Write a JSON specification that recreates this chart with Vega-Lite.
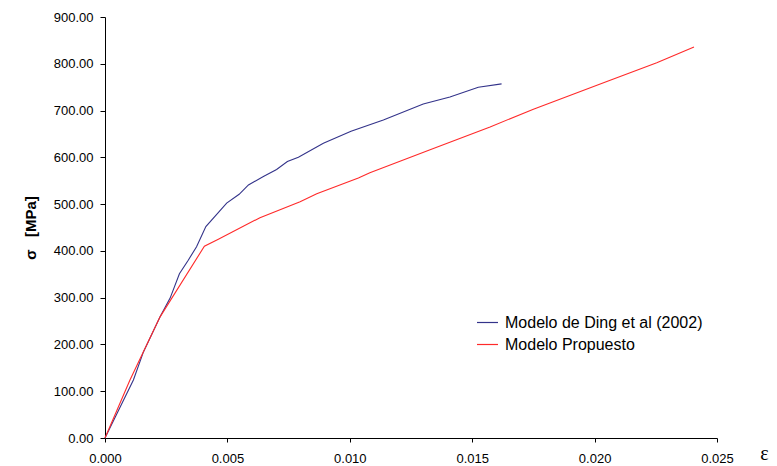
{
  "$schema": "https://vega.github.io/schema/vega-lite/v6.json",
  "width": 612,
  "height": 421,
  "autosize": "none",
  "padding": {"left": 105, "top": 17, "right": 60, "bottom": 28},
  "background": "white",
  "config": {
    "view": {"stroke": null},
    "font": "Liberation Sans"
  },
  "data": {
    "values": [
      {"eps": 0, "sigma": 0, "serie": "Modelo de Ding et al (2002)"},
      {"eps": 0.00116, "sigma": 124, "serie": "Modelo de Ding et al (2002)"},
      {"eps": 0.00157, "sigma": 184, "serie": "Modelo de Ding et al (2002)"},
      {"eps": 0.00225, "sigma": 259, "serie": "Modelo de Ding et al (2002)"},
      {"eps": 0.00266, "sigma": 299, "serie": "Modelo de Ding et al (2002)"},
      {"eps": 0.00304, "sigma": 351, "serie": "Modelo de Ding et al (2002)"},
      {"eps": 0.0034, "sigma": 380, "serie": "Modelo de Ding et al (2002)"},
      {"eps": 0.00374, "sigma": 409, "serie": "Modelo de Ding et al (2002)"},
      {"eps": 0.00412, "sigma": 452, "serie": "Modelo de Ding et al (2002)"},
      {"eps": 0.00497, "sigma": 502, "serie": "Modelo de Ding et al (2002)"},
      {"eps": 0.00548, "sigma": 521, "serie": "Modelo de Ding et al (2002)"},
      {"eps": 0.00586, "sigma": 541, "serie": "Modelo de Ding et al (2002)"},
      {"eps": 0.00647, "sigma": 559, "serie": "Modelo de Ding et al (2002)"},
      {"eps": 0.00701, "sigma": 574, "serie": "Modelo de Ding et al (2002)"},
      {"eps": 0.00745, "sigma": 591, "serie": "Modelo de Ding et al (2002)"},
      {"eps": 0.0079, "sigma": 600, "serie": "Modelo de Ding et al (2002)"},
      {"eps": 0.00892, "sigma": 630, "serie": "Modelo de Ding et al (2002)"},
      {"eps": 0.01005, "sigma": 656, "serie": "Modelo de Ding et al (2002)"},
      {"eps": 0.01137, "sigma": 680, "serie": "Modelo de Ding et al (2002)"},
      {"eps": 0.013, "sigma": 714, "serie": "Modelo de Ding et al (2002)"},
      {"eps": 0.01409, "sigma": 729, "serie": "Modelo de Ding et al (2002)"},
      {"eps": 0.01525, "sigma": 750, "serie": "Modelo de Ding et al (2002)"},
      {"eps": 0.0162, "sigma": 757, "serie": "Modelo de Ding et al (2002)"},
      {"eps": 0, "sigma": 0, "serie": "Modelo Propuesto"},
      {"eps": 0.00102, "sigma": 124, "serie": "Modelo Propuesto"},
      {"eps": 0.00225, "sigma": 259, "serie": "Modelo Propuesto"},
      {"eps": 0.00406, "sigma": 410, "serie": "Modelo Propuesto"},
      {"eps": 0.00463, "sigma": 425, "serie": "Modelo Propuesto"},
      {"eps": 0.00633, "sigma": 471, "serie": "Modelo Propuesto"},
      {"eps": 0.00797, "sigma": 505, "serie": "Modelo Propuesto"},
      {"eps": 0.00865, "sigma": 522, "serie": "Modelo Propuesto"},
      {"eps": 0.01035, "sigma": 556, "serie": "Modelo Propuesto"},
      {"eps": 0.01082, "sigma": 567, "serie": "Modelo Propuesto"},
      {"eps": 0.01328, "sigma": 616, "serie": "Modelo Propuesto"},
      {"eps": 0.01573, "sigma": 665, "serie": "Modelo Propuesto"},
      {"eps": 0.0175, "sigma": 703, "serie": "Modelo Propuesto"},
      {"eps": 0.0205, "sigma": 762, "serie": "Modelo Propuesto"},
      {"eps": 0.02254, "sigma": 802, "serie": "Modelo Propuesto"},
      {"eps": 0.02406, "sigma": 836, "serie": "Modelo Propuesto"}
    ]
  },
  "mark": {"type": "line", "strokeWidth": 1.1, "interpolate": "linear"},
  "encoding": {
    "x": {
      "field": "eps",
      "type": "quantitative",
      "scale": {"domain": [0, 0.025], "nice": false, "zero": true},
      "axis": {
        "values": [0, 0.005, 0.01, 0.015, 0.02, 0.025],
        "format": ".3f",
        "grid": false,
        "domainColor": "#000",
        "tickColor": "#000",
        "tickSize": 4,
        "labelFontSize": 13,
        "labelColor": "#000",
        "labelPadding": 10,
        "labelFlush": false,
        "title": "ε",
        "titleFont": "Liberation Serif",
        "titleFontSize": 20,
        "titleFontWeight": "normal",
        "titleColor": "#000",
        "titleX": 659,
        "titleY": 15,
        "titleAlign": "center",
        "titleBaseline": "middle"
      }
    },
    "y": {
      "field": "sigma",
      "type": "quantitative",
      "scale": {"domain": [0, 900], "nice": false},
      "axis": {
        "values": [0, 100, 200, 300, 400, 500, 600, 700, 800, 900],
        "format": ".2f",
        "grid": false,
        "domainColor": "#000",
        "tickColor": "#000",
        "tickSize": 5,
        "labelFontSize": 13,
        "labelColor": "#000",
        "labelPadding": 7,
        "title": "σ\u00a0\u00a0\u00a0[MPa]",
        "titleFontSize": 15,
        "titleFontWeight": "bold",
        "titleColor": "#000",
        "titlePadding": 15
      }
    },
    "color": {
      "field": "serie",
      "type": "nominal",
      "scale": {
        "domain": ["Modelo de Ding et al (2002)", "Modelo Propuesto"],
        "range": ["#33338a", "#ff2a2a"]
      },
      "legend": {
        "title": null,
        "orient": "none",
        "legendX": 371,
        "legendY": 294,
        "symbolType": "stroke",
        "symbolSize": 441,
        "symbolStrokeWidth": 1.2,
        "labelFontSize": 16,
        "labelColor": "#000",
        "labelOffset": 6,
        "labelLimit": 400,
        "rowPadding": 2
      }
    }
  }
}
